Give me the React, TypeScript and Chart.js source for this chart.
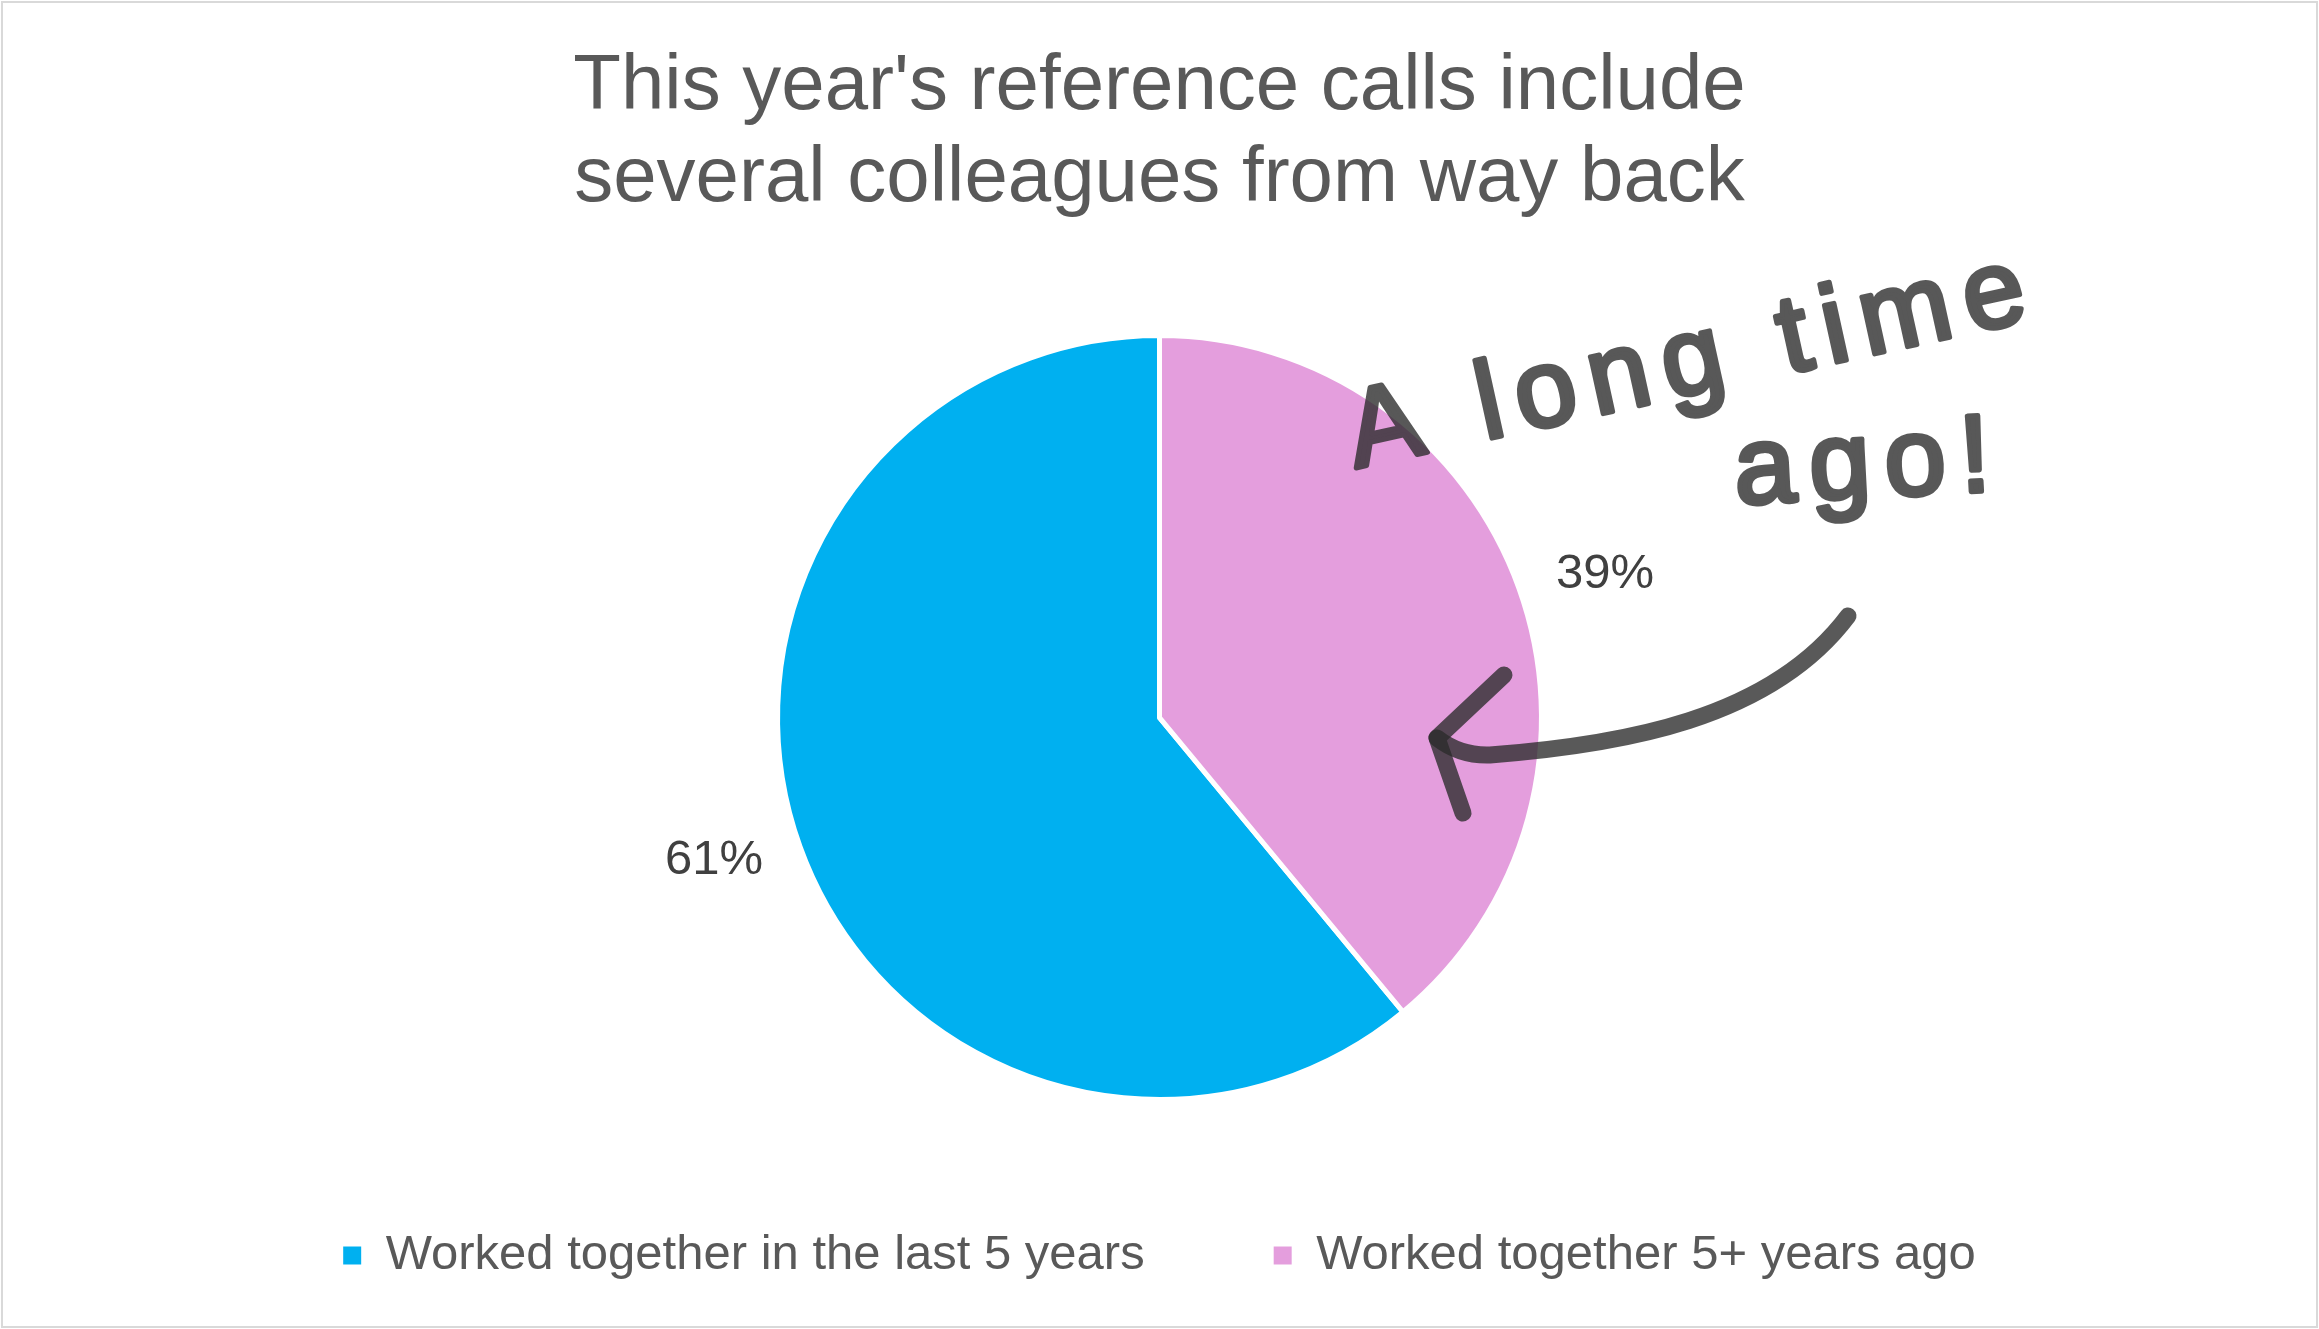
import React, { useEffect, useRef } from "react";
import { Chart, registerables } from "chart.js";
Chart.register(...registerables);

const categories = ["Worked together in the last 5 years", "Worked together 5+ years ago"];
const values = [61, 39];
const colors = ["#00B0F0", "#E49EDD"];
const titleLines = ["This year's reference calls include", "several colleagues from way back"];
const annotationLine1 = "A long time";
const annotationLine2 = "ago!";

const W = 2319;
const H = 1329;

const framePlugin = {
  id: "frame",
  beforeDraw(chart: any) {
    const ctx = chart.ctx;
    ctx.save();
    ctx.fillStyle = "#ffffff";
    ctx.fillRect(0, 0, chart.width, chart.height);
    ctx.strokeStyle = "#d9d9d9";
    ctx.lineWidth = 2;
    ctx.strokeRect(2, 2, chart.width - 4, chart.height - 4);
    ctx.restore();
  },
};

const labelPlugin = {
  id: "pctLabels",
  afterDatasetsDraw(chart: any) {
    const meta = chart.getDatasetMeta(0);
    const data = chart.data.datasets[0].data as number[];
    const total = data.reduce((a, b) => a + b, 0);
    const ctx = chart.ctx;
    ctx.save();
    ctx.font = '49px "Liberation Sans"';
    ctx.fillStyle = "#404040";
    ctx.textAlign = "center";
    ctx.textBaseline = "middle";
    meta.data.forEach((arc: any, i: number) => {
      const { x, y, startAngle, endAngle, outerRadius } = arc.getProps(
        ["x", "y", "startAngle", "endAngle", "outerRadius"],
        true
      );
      const mid = (startAngle + endAngle) / 2 + 0.035;
      const r = outerRadius + 86;
      ctx.fillText(Math.round((data[i] / total) * 100) + "%", x + Math.cos(mid) * r, y + Math.sin(mid) * r);
    });
    ctx.restore();
  },
};

const annotationPlugin = {
  id: "handNote",
  afterDraw(chart: any) {
    const ctx = chart.ctx;
    const off = document.createElement("canvas");
    off.width = chart.width;
    off.height = chart.height;
    const o = off.getContext("2d") as any;
    o.fillStyle = "rgb(42,42,42)";
    o.strokeStyle = "rgb(42,42,42)";
    o.lineWidth = 5;
    o.lineJoin = "round";
    o.lineCap = "round";
    o.font = '110px "Liberation Sans"';
    o.letterSpacing = "14px";
    o.textBaseline = "alphabetic";
    o.save();
    o.translate(1356, 468);
    o.rotate((-12.4 * Math.PI) / 180);
    o.fillText(annotationLine1, 0, 0);
    o.strokeText(annotationLine1, 0, 0);
    o.restore();
    o.save();
    o.translate(1736, 504);
    o.rotate((-3 * Math.PI) / 180);
    o.fillText(annotationLine2, 0, 0);
    o.strokeText(annotationLine2, 0, 0);
    o.restore();
    ctx.save();
    ctx.globalAlpha = 0.78;
    ctx.drawImage(off, 0, 0);
    ctx.restore();

    ctx.save();
    ctx.strokeStyle = "rgba(42,42,42,0.78)";
    ctx.lineWidth = 17;
    ctx.lineCap = "round";
    ctx.lineJoin = "round";
    ctx.beginPath();
    ctx.moveTo(1848, 616);
    ctx.bezierCurveTo(1770, 720, 1620, 745, 1490, 755);
    ctx.quadraticCurveTo(1460, 756, 1437, 738);
    ctx.stroke();
    ctx.beginPath();
    ctx.moveTo(1504, 675);
    ctx.lineTo(1437, 738);
    ctx.lineTo(1463, 813);
    ctx.stroke();
    ctx.restore();
  },
};

export default function App() {
  const ref = useRef<HTMLCanvasElement | null>(null);
  useEffect(() => {
    document.body.style.margin = "0";
    const canvas = ref.current;
    if (!canvas) return;
    const total = values.reduce((a, b) => a + b, 0);
    const chart = new Chart(canvas, {
      type: "pie",
      data: {
        labels: categories,
        datasets: [
          {
            data: values,
            backgroundColor: colors,
            borderColor: "#ffffff",
            borderWidth: 5,
          },
        ],
      },
      options: {
        responsive: false,
        animation: false,
        devicePixelRatio: 1,
        rotation: (values[1] / total) * 360,
        layout: { padding: { top: 0, bottom: 39, left: 0, right: 0 } },
        plugins: {
          tooltip: { enabled: false },
          title: {
            display: true,
            text: titleLines,
            color: "#595959",
            font: { family: "Liberation Sans", size: 78, weight: "normal", lineHeight: 1.18 },
            padding: { top: 41, bottom: 108 },
          },
          legend: {
            position: "bottom",
            labels: {
              boxWidth: 18,
              boxHeight: 18,
              padding: 129,
              color: "#595959",
              font: { family: "Liberation Sans", size: 49 },
              generateLabels: (c: any) => {
                const items = (Chart as any).overrides.pie.plugins.legend.labels.generateLabels(c);
                return items.map((it: any) => ({ ...it, lineWidth: 0, strokeStyle: "rgba(0,0,0,0)" }));
              },
            },
          },
        },
      },
      plugins: [framePlugin, labelPlugin, annotationPlugin],
    });
    return () => chart.destroy();
  }, []);
  return (
    <div style={{ width: W, height: H, position: "relative" }}>
      <canvas ref={ref} width={W} height={H} style={{ display: "block", width: W, height: H }} />
    </div>
  );
}
